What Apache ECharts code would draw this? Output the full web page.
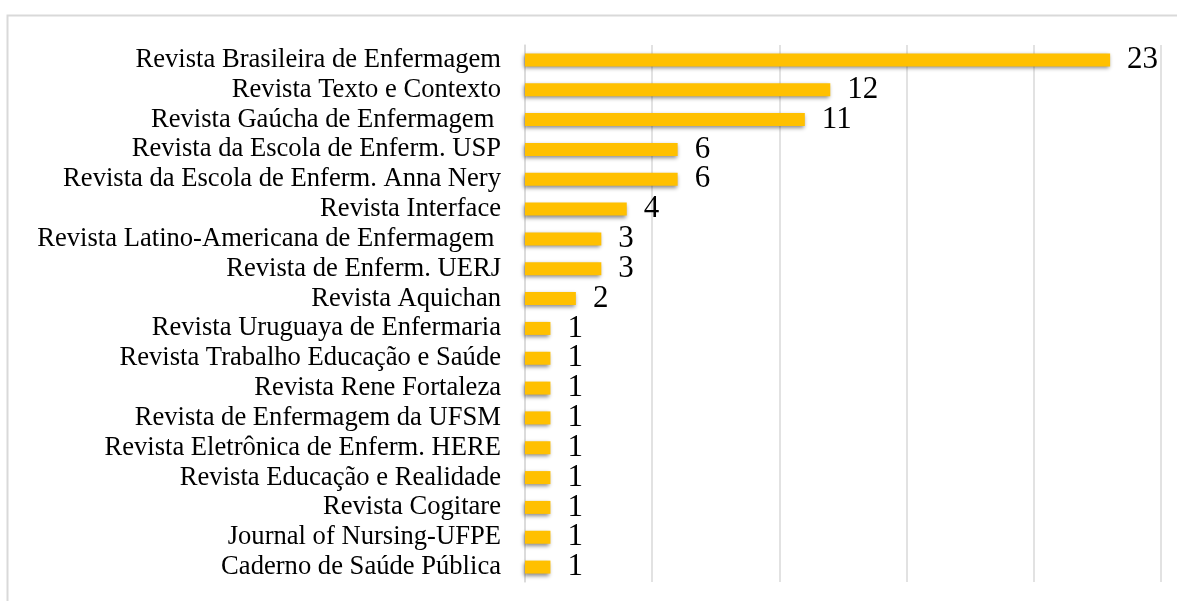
<!DOCTYPE html>
<html>
<head>
<meta charset="utf-8">
<script src="https://cdn.jsdelivr.net/npm/echarts@6/dist/echarts.min.js"></script>
<style>
  html, body { margin: 0; padding: 0; background: #fff; }
  #chart { width: 1177px; height: 601px; }
</style>
</head>
<body>
<div id="chart"></div>
<script>
var revistas = [
    'Revista Brasileira de Enfermagem',
    'Revista Texto e Contexto',
    'Revista Gaúcha de Enfermagem ',
    'Revista da Escola de Enferm. USP',
    'Revista da Escola de Enferm. Anna Nery',
    'Revista Interface',
    'Revista Latino-Americana de Enfermagem ',
    'Revista de Enferm. UERJ',
    'Revista Aquichan',
    'Revista Uruguaya de Enfermaria',
    'Revista Trabalho Educação e Saúde',
    'Revista Rene Fortaleza',
    'Revista de Enfermagem da UFSM',
    'Revista Eletrônica de Enferm. HERE',
    'Revista Educação e Realidade',
    'Revista Cogitare',
    'Journal of Nursing-UFPE',
    'Caderno de Saúde Pública'
];
var artigos = [23, 12, 11, 6, 6, 4, 3, 3, 2, 1, 1, 1, 1, 1, 1, 1, 1, 1];

var myChart = echarts.init(document.getElementById('chart'));

var option = {
    animation: false,
    graphic: [{
        type: 'rect',
        shape: { x: 7.5, y: 15.5, width: 1300, height: 700 },
        style: { fill: 'none', stroke: '#d9d9d9', lineWidth: 2 },
        silent: true
    }],
    grid: {
        left: 525,
        right: 16,
        top: 45,
        bottom: 19
    },
    xAxis: {
        type: 'value',
        min: 0,
        max: 25,
        interval: 5,
        axisLabel: { show: false },
        axisLine: { show: false },
        axisTick: { show: false },
        splitLine: { lineStyle: { color: '#d9d9d9', width: 1.5 } }
    },
    yAxis: {
        type: 'category',
        inverse: true,
        data: revistas,
        axisLine: { show: true, lineStyle: { color: '#d9d9d9', width: 1.5 } },
        axisTick: { show: false },
        axisLabel: {
            interval: 0,
            color: '#000',
            fontFamily: 'Liberation Serif',
            fontSize: 26.6,
            margin: 24
        }
    },
    series: [{
        type: 'bar',
        data: artigos,
        barWidth: 13,
        itemStyle: {
            color: '#ffc000',
            shadowColor: 'rgba(0,0,0,0.45)',
            shadowBlur: 4,
            shadowOffsetX: -1,
            shadowOffsetY: 2
        },
        label: {
            show: true,
            position: 'right',
            distance: 17,
            color: '#000',
            fontFamily: 'Liberation Serif',
            fontSize: 31
        }
    }]
};

myChart.setOption(option);
</script>
</body>
</html>
